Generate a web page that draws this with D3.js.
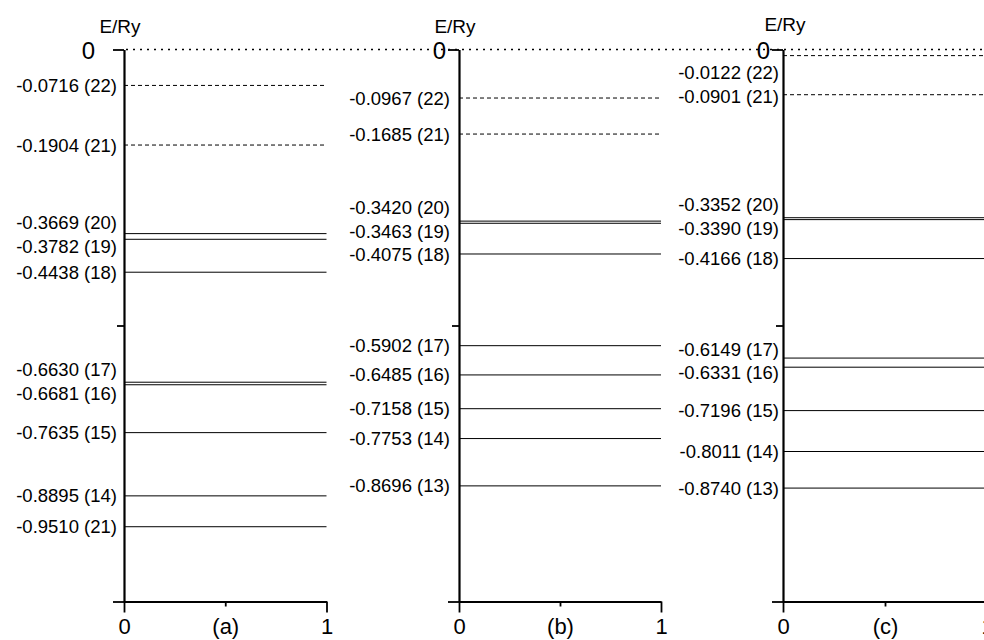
<!DOCTYPE html>
<html><head><meta charset="utf-8">
<script src="https://cdn.jsdelivr.net/npm/d3@7"></script>
<style>
body{margin:0;background:#fff}
svg{display:block;font-family:Arial,"Liberation Sans",sans-serif}
</style>
</head><body>
<svg id="chart" width="984" height="640"></svg>
<script>
// ---------- data ----------
const panelNames = ["(a)", "(b)", "(c)"];

const energiesA = [-0.0716, -0.1904, -0.3669, -0.3782, -0.4438, -0.6630, -0.6681, -0.7635, -0.8895, -0.9510];
const statesA   = [22, 21, 20, 19, 18, 17, 16, 15, 14, 21];
const dashedA   = [true, true, false, false, false, false, false, false, false, false];

const energiesB = [-0.0967, -0.1685, -0.3420, -0.3463, -0.4075, -0.5902, -0.6485, -0.7158, -0.7753, -0.8696];
const statesB   = [22, 21, 20, 19, 18, 17, 16, 15, 14, 13];
const dashedB   = [true, true, false, false, false, false, false, false, false, false];

const energiesC = [-0.0122, -0.0901, -0.3352, -0.3390, -0.4166, -0.6149, -0.6331, -0.7196, -0.8011, -0.8740];
const statesC   = [22, 21, 20, 19, 18, 17, 16, 15, 14, 13];
const dashedC   = [true, true, false, false, false, false, false, false, false, false];

const yMajorTicks = [0, -1.1];
const yMinorTicks = [-0.55];
const xMajorTicks = [0, 1];
const xMinorTicks = [0.5];
const yAxisTitle = "E/Ry";

// ---------- layout ----------
const W = 984, H = 640;
const panelLayout = [
  {x0: 124, x1: 326.5, labelGap: 7, zeroPad: 18, eryDx: -4, eryY: 33},
  {x0: 459, x1: 661,   labelGap: 9, zeroPad: 2,  eryDx: -4, eryY: 33},
  {x0: 783, x1: 987,   labelGap: 4, zeroPad: 2,  eryDx: 2,  eryY: 31}
];
const panels = [
  {name: panelNames[0], e: energiesA, s: statesA, d: dashedA},
  {name: panelNames[1], e: energiesB, s: statesB, d: dashedB},
  {name: panelNames[2], e: energiesC, s: statesC, d: dashedC}
];
const FONT = "Arial, 'Liberation Sans', sans-serif";

const svg = d3.select("#chart");
const y = d3.scaleLinear().domain([0, -1.1]).range([49.5, 601.5]);

// zero reference dotted line spanning all panels
svg.append("line")
  .attr("x1", panelLayout[0].x0 + 2).attr("x2", W)
  .attr("y1", y(0)).attr("y2", y(0))
  .attr("stroke", "#000").attr("stroke-width", 1.3)
  .attr("stroke-dasharray", "2,5");

function placeLabels(ys, top, gap) {
  const p = ys.slice();
  for (let it = 0; it < 300; it++) {
    let moved = false;
    if (p[0] < top + gap) { p[0] = top + gap; moved = true; }
    for (let i = 0; i < p.length - 1; i++) {
      const d = p[i + 1] - p[i];
      if (d < gap - 0.01) {
        const def = gap - d;
        p[i] -= def * 0.6;
        p[i + 1] += def * 0.4;
        moved = true;
      }
    }
    if (!moved) break;
  }
  return p;
}

panels.forEach((P, k) => {
  const L = panelLayout[k];
  const x = d3.scaleLinear().domain([0, 1]).range([L.x0, L.x1]);
  const g = svg.append("g");

  // energy levels
  g.selectAll("line.level").data(P.e.map((v, i) => ({v, dashed: P.d[i]})))
    .join("line").attr("class", "level")
    .attr("x1", x(0)).attr("x2", x(1))
    .attr("y1", d => y(d.v)).attr("y2", d => y(d.v))
    .attr("stroke", "#000").attr("stroke-width", 1)
    .attr("stroke-dasharray", d => d.dashed ? "4,3" : null);

  // labels
  const ly = placeLabels(P.e.map(v => y(v)), y(0), 23.5);
  g.selectAll("text.lab").data(P.e.map((v, i) => ({v, s: P.s[i], yy: ly[i]})))
    .join("text").attr("class", "lab")
    .attr("x", x(0) - L.labelGap).attr("y", d => d.yy)
    .attr("dy", "0.35em").attr("text-anchor", "end")
    .attr("font-size", 18.5).attr("fill", "#000")
    .text(d => d.v.toFixed(4) + " (" + d.s + ")");

  // y axis (major)
  const yAx = g.append("g").attr("transform", `translate(${x(0)},0)`)
    .call(d3.axisLeft(y).tickValues(yMajorTicks).tickSize(11).tickSizeOuter(0)
      .tickPadding(L.zeroPad).tickFormat(d => d === 0 ? "0" : ""));
  yAx.select(".domain").attr("stroke-width", 2.2);
  yAx.selectAll(".tick line").attr("stroke-width", 1.8);
  yAx.selectAll(".tick text").attr("font-size", 24).attr("font-family", FONT).attr("dy", "0.36em");
  // y axis (minor)
  const yMin = g.append("g").attr("transform", `translate(${x(0)},0)`)
    .call(d3.axisLeft(y).tickValues(yMinorTicks).tickSize(7).tickSizeOuter(0).tickFormat(() => ""));
  yMin.select(".domain").remove();
  yMin.selectAll(".tick line").attr("stroke-width", 1.8);

  // x axis
  const xAx = g.append("g").attr("transform", `translate(0,${y(-1.1)})`)
    .call(d3.axisBottom(x).tickValues(xMajorTicks).tickSize(11).tickSizeOuter(0)
      .tickPadding(6).tickFormat(d3.format("d")));
  xAx.select(".domain").attr("stroke-width", 2.2);
  xAx.selectAll(".tick line").attr("stroke-width", 1.8);
  xAx.selectAll(".tick text").attr("font-size", 22).attr("font-family", FONT);
  const xMin = g.append("g").attr("transform", `translate(0,${y(-1.1)})`)
    .call(d3.axisBottom(x).tickValues(xMinorTicks).tickSize(5).tickSizeOuter(0)
      .tickPadding(12).tickFormat(() => P.name));
  xMin.select(".domain").remove();
  xMin.selectAll(".tick line").attr("stroke-width", 1.8);
  xMin.selectAll(".tick text").attr("font-size", 22).attr("font-family", FONT);

  // axis title
  g.append("text").attr("x", x(0) + L.eryDx).attr("y", L.eryY)
    .attr("text-anchor", "middle").attr("font-size", 19).attr("fill", "#000")
    .text(yAxisTitle);
});
</script>
</body></html>
